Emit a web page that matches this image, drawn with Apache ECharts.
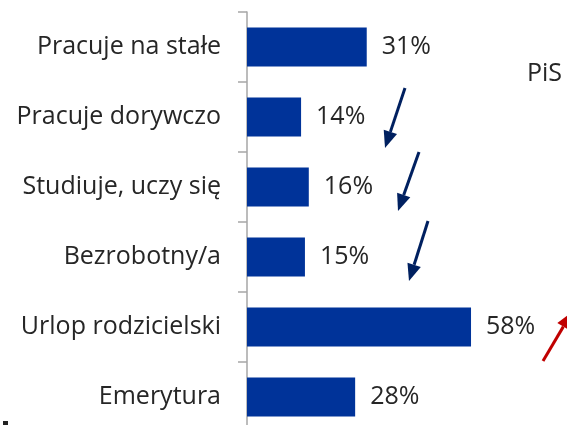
<!DOCTYPE html>
<html>
<head>
<meta charset="utf-8">
<script src="https://cdn.jsdelivr.net/npm/echarts@6/dist/echarts.min.js"></script>
<style>
  html, body { margin: 0; padding: 0; background: #fff; }
  #chart { width: 567px; height: 425px; }
</style>
</head>
<body>
<div id="chart"></div>
<script>
const categories = ['Pracuje na stałe', 'Pracuje dorywczo', 'Studiuje, uczy się', 'Bezrobotny/a', 'Urlop rodzicielski', 'Emerytura'];
const values = [31, 14, 16, 15, 58, 28];

// strzałki (adnotacje): [x1, y1, x2, y2, kolor]
const arrows = [
  [405, 88, 385, 148, '#002060'],
  [419, 152, 398, 211, '#002060'],
  [428, 221, 409, 281, '#002060'],
  [543, 361, 572, 312, '#c00000']
];

function arrow(a) {
  const [x1, y1, x2, y2, color] = a;
  const dx = x2 - x1, dy = y2 - y1;
  const len = Math.sqrt(dx * dx + dy * dy);
  const ux = dx / len, uy = dy / len;
  const hl = 17, hw = 7;
  const bx = x2 - ux * hl, by = y2 - uy * hl;
  return [
    { type: 'line', shape: { x1: x1, y1: y1, x2: bx, y2: by }, style: { stroke: color, lineWidth: 3 } },
    { type: 'polygon', shape: { points: [[x2, y2], [bx - uy * hw, by + ux * hw], [bx + uy * hw, by - ux * hw]] }, style: { fill: color } }
  ];
}

const myChart = echarts.init(document.getElementById('chart'));
const textFont = '"Open Sans", sans-serif';
const option = {
  animation: false,
  grid: { left: 247, top: 12, width: 309, height: 420, outerBoundsMode: 'none' },
  xAxis: { type: 'value', min: 0, max: 80, show: false },
  yAxis: {
    type: 'category',
    inverse: true,
    data: categories,
    axisLine: { lineStyle: { color: '#a6a6a6', width: 1.5 } },
    axisTick: { show: true, length: 9, lineStyle: { color: '#a6a6a6', width: 1.5 } },
    axisLabel: { color: '#262626', fontSize: 25, fontFamily: textFont, margin: 26 }
  },
  series: [{
    type: 'bar',
    data: values,
    barCategoryGap: '44%',
    itemStyle: { color: '#003399' },
    label: {
      show: true,
      position: 'right',
      distance: 15,
      formatter: '{c}%',
      color: '#262626',
      fontSize: 25,
      fontFamily: textFont
    }
  }],
  graphic: [
    { type: 'text', left: 527, top: 61, style: { text: 'PiS', fontSize: 25, fontFamily: textFont, fill: '#262626' } },
    { type: 'rect', shape: { x: 3, y: 421, width: 5, height: 4 }, style: { fill: '#222' } }
  ].concat(...arrows.map(arrow))
};
myChart.setOption(option);
</script>
</body>
</html>
